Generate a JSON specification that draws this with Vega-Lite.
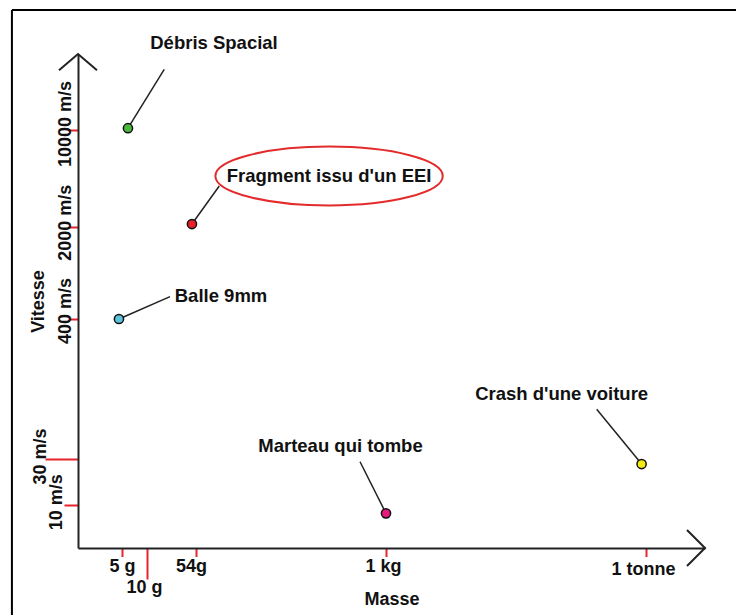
{
  "$schema": "https://vega.github.io/schema/vega-lite/v6.json",
  "width": 627,
  "height": 494,
  "autosize": {"type": "none"},
  "padding": {"left": 78, "top": 54, "right": 31, "bottom": 67},
  "background": "white",
  "config": {"view": {"stroke": null}, "font": "Liberation Sans"},
  "datasets": {
    "objets": [
      {"objet": "Débris Spacial", "masse_g": 5.9, "vitesse_ms": 10300, "trait_masse_g": 18.1, "trait_vitesse_ms": 27500, "texte_masse_g": 71.2, "texte_vitesse_ms": 42800},
      {"objet": "Fragment issu d'un EEI", "masse_g": 47, "vitesse_ms": 2100, "trait_masse_g": 77.2, "trait_vitesse_ms": 3950, "texte_masse_g": 417, "texte_vitesse_ms": 4660},
      {"objet": "Balle 9mm", "masse_g": 4.6, "vitesse_ms": 400, "trait_masse_g": 22.1, "trait_vitesse_ms": 591, "texte_masse_g": 79.3, "texte_vitesse_ms": 595},
      {"objet": "Marteau qui tombe", "masse_g": 1000, "vitesse_ms": 8.2, "trait_masse_g": 671, "trait_vitesse_ms": 28.1, "texte_masse_g": 497, "texte_vitesse_ms": 38.3},
      {"objet": "Crash d'une voiture", "masse_g": 890000, "vitesse_ms": 26.6, "trait_masse_g": 269800, "trait_vitesse_ms": 75.3, "texte_masse_g": 106400, "texte_vitesse_ms": 99}
    ],
    "un": [{"element": "cadre"}]
  },
  "data": {"name": "objets"},
  "layer": [
    {
      "data": {"name": "un"},
      "mark": {"type": "rule", "color": "#000000", "strokeWidth": 2},
      "encoding": {
        "x": {"datum": 0.246, "type": "quantitative", "scale": {"type": "log", "domain": [1.5, 5, 10, 54, 1000, 1000000, 4800000], "range": [0, 44, 69, 118, 308, 568, 627], "nice": false, "zero": false}},
        "x2": {"datum": 20000000},
        "y": {"datum": 73950, "type": "quantitative", "scale": {"type": "log", "domain": [3.6, 10, 30, 400, 2000, 10000, 35500], "range": [494, 451, 405, 265, 173, 76, 0], "nice": false, "zero": false}}
      }
    },
    {
      "data": {"name": "un"},
      "mark": {"type": "rule", "color": "#000000", "strokeWidth": 2},
      "encoding": {
        "x": {"datum": 0.246, "type": "quantitative", "scale": {"type": "log", "domain": [1.5, 5, 10, 54, 1000, 1000000, 4800000], "range": [0, 44, 69, 118, 308, 568, 627], "nice": false, "zero": false}},
        "y": {"datum": 73950, "type": "quantitative", "scale": {"type": "log", "domain": [3.6, 10, 30, 400, 2000, 10000, 35500], "range": [494, 451, 405, 265, 173, 76, 0], "nice": false, "zero": false}},
        "y2": {"datum": 0.5}
      }
    },
    {
      "data": {"name": "un"},
      "mark": {"type": "point", "shape": "M -1 -1 L 0 0 L -1 1", "filled": false, "color": "#222222", "strokeWidth": 2, "size": 1296, "opacity": 1},
      "encoding": {
        "x": {"datum": 4800000, "type": "quantitative", "scale": {"type": "log", "domain": [1.5, 5, 10, 54, 1000, 1000000, 4800000], "range": [0, 44, 69, 118, 308, 568, 627], "nice": false, "zero": false}},
        "y": {"datum": 3.6, "type": "quantitative", "scale": {"type": "log", "domain": [3.6, 10, 30, 400, 2000, 10000, 35500], "range": [494, 451, 405, 265, 173, 76, 0], "nice": false, "zero": false}}
      }
    },
    {
      "data": {"name": "un"},
      "mark": {"type": "point", "shape": "M -1 0.85 L 0 0 L 1 0.85", "filled": false, "color": "#222222", "strokeWidth": 2, "size": 1444, "opacity": 1},
      "encoding": {
        "x": {"datum": 1.5, "type": "quantitative", "scale": {"type": "log", "domain": [1.5, 5, 10, 54, 1000, 1000000, 4800000], "range": [0, 44, 69, 118, 308, 568, 627], "nice": false, "zero": false}},
        "y": {"datum": 35500, "type": "quantitative", "scale": {"type": "log", "domain": [3.6, 10, 30, 400, 2000, 10000, 35500], "range": [494, 451, 405, 265, 173, 76, 0], "nice": false, "zero": false}}
      }
    },
    {
      "mark": {"type": "rule", "color": "#222222", "strokeWidth": 1.5},
      "encoding": {
        "x": {
          "field": "masse_g", "type": "quantitative",
          "scale": {"type": "log", "domain": [1.5, 5, 10, 54, 1000, 1000000, 4800000], "range": [0, 44, 69, 118, 308, 568, 627], "nice": false, "zero": false},
          "axis": {
            "orient": "bottom",
            "title": "Masse",
            "values": [5, 10, 54, 1000, 1000000],
            "labelExpr": "datum.value == 5 ? '5 g' : datum.value == 10 ? '10 g' : datum.value == 54 ? '54g' : datum.value == 1000 ? '1 kg' : '1 tonne'",
            "grid": false,
            "domainColor": "#222222",
            "domainWidth": 2,
            "tickColor": "#e8232b",
            "tickWidth": 2,
            "tickSize": {"condition": {"test": "datum.value == 10", "value": 31}, "value": 8.5},
            "labelPadding": {"condition": [{"test": "datum.value == 10", "value": -1}, {"test": "datum.value == 1000000", "value": 4}], "value": 0.5},
            "labelOffset": {"condition": [{"test": "datum.value == 5", "value": 0}, {"test": "datum.value == 54", "value": -5}], "value": -3},
            "labelFont": "Liberation Sans",
            "labelFontSize": 18,
            "labelFontWeight": "bold",
            "labelColor": "#111111",
            "labelAngle": 0,
            "labelAlign": "center",
            "labelBaseline": "top",
            "labelOverlap": false,
            "labelFlush": false,
            "titleFont": "Liberation Sans",
            "titleFontSize": 18,
            "titleFontWeight": "bold",
            "titleColor": "#111111",
            "titleBaseline": "alphabetic",
            "titleY": 56
          }
        },
        "y": {
          "field": "vitesse_ms", "type": "quantitative",
          "scale": {"type": "log", "domain": [3.6, 10, 30, 400, 2000, 10000, 35500], "range": [494, 451, 405, 265, 173, 76, 0], "nice": false, "zero": false},
          "axis": {
            "orient": "left",
            "title": "Vitesse",
            "values": [10, 30, 400, 2000, 10000],
            "labelExpr": "datum.value + ' m/s'",
            "grid": false,
            "domainColor": "#222222",
            "domainWidth": 2,
            "tickColor": "#e8232b",
            "tickWidth": 2,
            "tickSize": {"condition": [{"test": "datum.value == 30", "value": 33}, {"test": "datum.value == 10", "value": 14}], "value": 10},
            "labelPadding": {"condition": [{"test": "datum.value == 30", "value": 0}, {"test": "datum.value == 10", "value": 2.3}], "value": -2.5},
            "labelOffset": {"condition": [{"test": "datum.value == 10000", "value": -6.5}, {"test": "datum.value == 2000", "value": -4.7}, {"test": "datum.value == 400", "value": -8.5}, {"test": "datum.value == 30", "value": -3}], "value": -3.3},
            "labelFont": "Liberation Sans",
            "labelFontSize": 18,
            "labelFontWeight": "bold",
            "labelColor": "#111111",
            "labelAngle": -90,
            "labelAlign": "center",
            "labelBaseline": "alphabetic",
            "labelOverlap": false,
            "labelFlush": false,
            "titleFont": "Liberation Sans",
            "titleFontSize": 18,
            "titleFontWeight": "bold",
            "titleColor": "#111111",
            "titleAngle": -90,
            "titleAlign": "center",
            "titleBaseline": "alphabetic",
            "titleX": -34.7,
            "titleY": 247
          }
        },
        "x2": {"field": "trait_masse_g"},
        "y2": {"field": "trait_vitesse_ms"}
      }
    },
    {
      "transform": [{"filter": {"field": "objet", "equal": "Fragment issu d'un EEI"}}],
      "mark": {"type": "point", "shape": "M -1 0 A 1 0.259 0 1 0 1 0 A 1 0.259 0 1 0 -1 0 Z", "filled": false, "color": "#e32b2b", "strokeWidth": 2, "size": 51711, "opacity": 1},
      "encoding": {
        "x": {"field": "texte_masse_g", "type": "quantitative", "scale": {"type": "log", "domain": [1.5, 5, 10, 54, 1000, 1000000, 4800000], "range": [0, 44, 69, 118, 308, 568, 627], "nice": false, "zero": false}},
        "y": {"field": "texte_vitesse_ms", "type": "quantitative", "scale": {"type": "log", "domain": [3.6, 10, 30, 400, 2000, 10000, 35500], "range": [494, 451, 405, 265, 173, 76, 0], "nice": false, "zero": false}}
      }
    },
    {
      "mark": {"type": "text", "align": "center", "baseline": "middle", "font": "Liberation Sans", "fontSize": 18.5, "fontWeight": "bold", "color": "#111111"},
      "encoding": {
        "x": {"field": "texte_masse_g", "type": "quantitative", "scale": {"type": "log", "domain": [1.5, 5, 10, 54, 1000, 1000000, 4800000], "range": [0, 44, 69, 118, 308, 568, 627], "nice": false, "zero": false}},
        "y": {"field": "texte_vitesse_ms", "type": "quantitative", "scale": {"type": "log", "domain": [3.6, 10, 30, 400, 2000, 10000, 35500], "range": [494, 451, 405, 265, 173, 76, 0], "nice": false, "zero": false}},
        "text": {"field": "objet", "type": "nominal"}
      }
    },
    {
      "mark": {"type": "circle", "size": 85, "stroke": "#111111", "strokeWidth": 1.5, "opacity": 1},
      "encoding": {
        "x": {"field": "masse_g", "type": "quantitative", "scale": {"type": "log", "domain": [1.5, 5, 10, 54, 1000, 1000000, 4800000], "range": [0, 44, 69, 118, 308, 568, 627], "nice": false, "zero": false}},
        "y": {"field": "vitesse_ms", "type": "quantitative", "scale": {"type": "log", "domain": [3.6, 10, 30, 400, 2000, 10000, 35500], "range": [494, 451, 405, 265, 173, 76, 0], "nice": false, "zero": false}},
        "color": {
          "field": "objet", "type": "nominal",
          "scale": {"domain": ["Débris Spacial", "Fragment issu d'un EEI", "Balle 9mm", "Marteau qui tombe", "Crash d'une voiture"], "range": ["#4cb83e", "#e8202a", "#5bc3dc", "#e6197e", "#f5ea14"]},
          "legend": null
        }
      }
    }
  ]
}
